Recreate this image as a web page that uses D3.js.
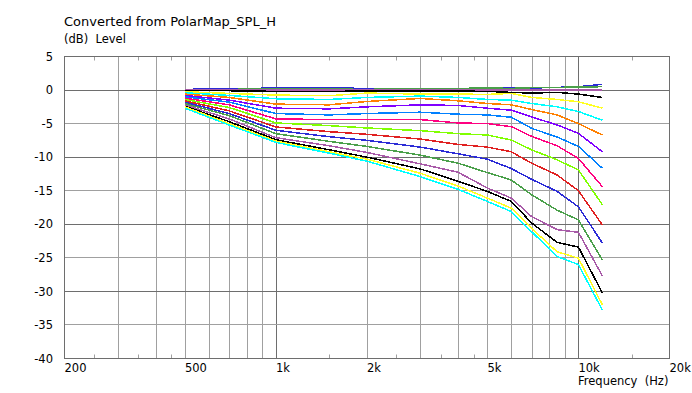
<!DOCTYPE html>
<html lang="en">

<head>
	<meta charset="utf-8">
	<title>Converted from PolarMap_SPL_H</title>
	<style>
        body {
            margin: 0;
            background: #fff;
        }
        text {
            font-family: "DejaVu Sans", Verdana, sans-serif;
            font-size: 11.5px;
            fill: #000;
            white-space: pre;
        }
        .title {
            font-size: 13px;
        }
        .grid-minor {
            stroke: #a0a0a0;
        }
        .grid-major {
            stroke: #6e6e6e;
        }
        .curve {
            fill: none;
            stroke-width: 1.5;
            shape-rendering: crispEdges;
        }
	</style>
	<script type="text/javascript" src="https://d3js.org/d3.v7.min.js"></script>
</head>

<body>
    <svg width="692" height="393"></svg>

	<script type="text/javascript">
        // measurement frequencies (Hz)
        const freqs = [500, 700, 1000, 1500, 2000, 3000, 4000, 5000, 6000, 7000, 8500, 10000, 12000];

        // normalized SPL curves (dB), top to bottom
        const curve1  = [0.1, 0.2, 0.3, 0.4, 0.2, 0.15, 0.1, 0.3, 0.4, 0.3, 0.4, 0.5, 0.85];
        const curve2  = [0.05, 0.1, 0.2, 0.15, 0.1, 0.25, 0.25, 0.3, 0.25, 0.35, 0.4, 0.45, 0.5];
        const curve3  = [0, 0, 0, 0, 0, 0, 0, 0, 0, 0, 0, 0, 0];
        const curve4  = [-0.05, -0.1, -0.2, -0.2, -0.15, -0.15, -0.15, -0.2, -0.35, -0.45, -0.35, -0.6, -1.1];
        const curve5  = [-0.25, -0.5, -0.75, -0.85, -0.45, -0.6, -0.6, -0.65, -0.5, -1.1, -1.4, -1.75, -2.7];
        const curve6  = [-0.4, -0.8, -1.3, -1.4, -1.1, -0.9, -1.1, -1.4, -1.5, -2.0, -2.5, -3.2, -4.5];
        const curve7  = [-0.6, -1.1, -2.1, -2.2, -1.7, -1.25, -1.6, -2.0, -2.2, -2.9, -3.7, -5.0, -6.7];
        const curve8  = [-0.8, -1.5, -2.7, -2.8, -2.5, -2.2, -2.3, -2.7, -3.0, -4.0, -5.2, -6.45, -9.2];
        const curve9  = [-1.0, -1.8, -3.5, -3.7, -3.5, -3.3, -3.6, -3.7, -4.05, -5.7, -7.0, -8.4, -11.65];
        const curve10 = [-1.2, -2.2, -4.3, -4.4, -4.4, -4.4, -4.9, -5.0, -5.45, -6.9, -8.3, -10.2, -14.4];
        const curve11 = [-1.4, -2.6, -4.9, -5.3, -5.65, -6.05, -6.5, -6.7, -7.45, -8.9, -10.4, -11.9, -17.1];
        const curve12 = [-1.6, -3.1, -5.5, -6.2, -6.6, -7.3, -8.1, -8.5, -9.2, -10.9, -12.65, -15.0, -20.1];
        const curve13 = [-1.8, -3.5, -6.0, -6.95, -7.5, -8.5, -9.5, -10.3, -11.7, -13.3, -15.1, -17.4, -22.8];
        const curve14 = [-2.0, -3.8, -6.5, -7.65, -8.4, -9.7, -10.9, -12.3, -13.4, -15.6, -17.9, -19.35, -25.3];
        const curve15 = [-2.2, -4.3, -7.1, -8.3, -9.3, -11.0, -12.25, -14.6, -16.1, -18.85, -20.8, -21.2, -27.7];
        const curve16 = [-2.4, -4.7, -7.4, -8.9, -10.0, -11.75, -13.6, -15.1, -16.6, -19.8, -22.7, -23.4, -30.25];
        const curve17 = [-2.5, -5.0, -7.6, -9.2, -10.3, -12.4, -14.3, -16.1, -17.6, -20.6, -24.1, -25.05, -32.0];
        const curve18 = [-2.7, -5.2, -7.8, -9.4, -10.6, -12.9, -14.8, -16.6, -18.1, -21.1, -24.8, -26.0, -32.8];

        // axes
        const freqLabels = [200, 500, 1000, 2000, 5000, 10000, 20000];
        const freqGrid = [300, 400, 500, 600, 700, 800, 900, 1000,
                          2000, 3000, 4000, 5000, 6000, 7000, 8000, 9000, 10000];
        const freqMinor = [250, 350, 450, 1500, 2500, 3500, 4500, 15000];
        const dbTicks = [5, 0, -5, -10, -15, -20, -25, -30, -35, -40];

        const palette = ["#2b2bd6", "#4aa04a", "#a85aa8", "#000000", "#ffff20", "#00ffff",
                         "#ff8000", "#8000ff", "#0080ff", "#ff0080", "#80ff00", "#e02020"];

        const curves = [curve1, curve2, curve3, curve4, curve5, curve6, curve7, curve8, curve9,
                        curve10, curve11, curve12, curve13, curve14, curve15, curve16, curve17, curve18];

        let svg = d3.select("svg");

        let x = d3.scaleLog().domain([200, 20000]).range([64.5, 669.5]),
            y = d3.scaleLinear().domain([-40, 5]).range([358.5, 56.5]);

        let fmtFreq = f => f >= 1000 ? (f / 1000) + "k" : String(f);

        // grid
        let grid = svg.append("g");
        grid.selectAll(".vgrid")
            .data(freqGrid)
            .enter().append("line")
            .attr("class", d => (d === 1000 || d === 10000) ? "grid-major" : "grid-minor")
            .attr("x1", d => Math.round(x(d)) + 0.5)
            .attr("x2", d => Math.round(x(d)) + 0.5)
            .attr("y1", y(5))
            .attr("y2", y(-40));

        grid.selectAll(".hgrid")
            .data(dbTicks.filter(d => d !== 5 && d !== -40))
            .enter().append("line")
            .attr("class", d => d % 10 === 0 ? "grid-major" : "grid-minor")
            .attr("x1", x(200))
            .attr("x2", x(20000))
            .attr("y1", d => Math.round(y(d) - 0.5) + 0.5)
            .attr("y2", d => Math.round(y(d) - 0.5) + 0.5);

        // minor ticks top and bottom
        grid.selectAll(".mtb")
            .data(freqMinor)
            .enter().append("line")
            .attr("class", "grid-minor")
            .attr("x1", d => Math.round(x(d)) + 0.5)
            .attr("x2", d => Math.round(x(d)) + 0.5)
            .attr("y1", y(-40) - 4)
            .attr("y2", y(-40));
        grid.selectAll(".mtt")
            .data(freqMinor)
            .enter().append("line")
            .attr("class", "grid-minor")
            .attr("x1", d => Math.round(x(d)) + 0.5)
            .attr("x2", d => Math.round(x(d)) + 0.5)
            .attr("y1", y(5))
            .attr("y2", y(5) + 4);

        // curves
        let line = d3.line()
            .x((d, i) => x(freqs[i]))
            .y(d => y(d));

        svg.append("g").selectAll("path")
            .data(curves)
            .enter().append("path")
            .attr("class", "curve")
            .attr("stroke", (d, i) => palette[i % palette.length])
            .attr("d", line);

        // frame
        svg.append("rect")
            .attr("x", x(200))
            .attr("y", y(5))
            .attr("width", x(20000) - x(200))
            .attr("height", y(-40) - y(5))
            .attr("fill", "none")
            .attr("stroke", "#6e6e6e");

        // labels
        svg.append("g").selectAll("text")
            .data(freqLabels)
            .enter().append("text")
            .attr("x", d => x(d))
            .attr("y", 372)
            .text(fmtFreq);

        svg.append("g").selectAll("text")
            .data(dbTicks)
            .enter().append("text")
            .attr("x", 53)
            .attr("y", d => y(d))
            .attr("dy", "0.36em")
            .attr("text-anchor", "end")
            .text(d => d);

        svg.append("text")
            .attr("class", "title")
            .attr("x", 64)
            .attr("y", 26)
            .text("Converted from PolarMap_SPL_H");

        svg.append("text")
            .attr("x", 64)
            .attr("y", 43)
            .text("(dB)  Level");

        svg.append("text")
            .attr("x", 578)
            .attr("y", 385)
            .text("Frequency  (Hz)");
    </script>
</body>

</html>
